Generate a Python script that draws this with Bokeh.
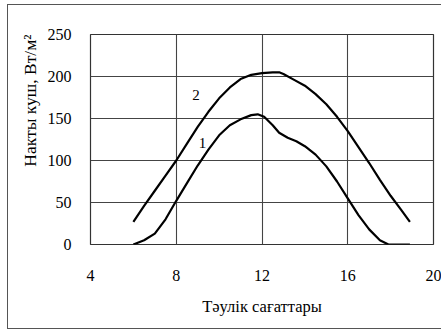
from bokeh.plotting import figure
from bokeh.models import Range1d, FixedTicker, Title
from bokeh.embed import file_html
from bokeh.resources import INLINE
from bokeh.core.properties import value

# Curve 2 (upper)
hours_2 = [6.0, 6.5, 7.0, 7.5, 8.0, 8.5, 9.0, 9.5, 10.0, 10.5, 11.0, 11.5, 12.0, 12.5,
           12.8, 13.0, 13.5, 14.0, 14.5, 15.0, 15.5, 16.0, 16.5, 17.0, 17.5, 18.0, 18.5, 18.9]
power_2 = [27, 46, 64, 82, 100, 120, 140, 158, 174, 187, 197, 202, 204, 205,
           205, 203, 196, 189, 179, 167, 152, 135, 116, 97, 77, 58, 41, 27]

# Curve 1 (lower)
hours_1 = [6.0, 6.5, 7.0, 7.5, 8.0, 8.5, 9.0, 9.5, 10.0, 10.5, 11.0, 11.5, 11.8, 12.1,
           12.5, 12.8, 13.2, 13.6, 14.0, 14.5, 15.0, 15.5, 16.0, 16.5, 17.0, 17.5, 17.9, 18.9]
power_1 = [0, 5, 13, 30, 52, 73, 94, 113, 130, 142, 149, 154, 155, 152,
           142, 133, 127, 123, 117, 107, 93, 75, 55, 35, 18, 5, 0, 0]

x_ticks = [4, 8, 12, 16, 20]
y_ticks = [0, 50, 100, 150, 200, 250]
curve_labels = ["2", "1"]
label_x = [8.92, 9.23]
label_y = [178, 121]
x_title = "Тәулік сағаттары"
y_title = "Накты куш, Вт/м²"

FONT = "Liberation Serif"

p = figure(width=434, height=325, output_backend="svg", toolbar_location=None,
           x_range=Range1d(4, 20), y_range=Range1d(0, 250),
           min_border_left=82, min_border_right=9, min_border_top=29, min_border_bottom=86,
           x_axis_label=x_title)
p.styles = {"position": "absolute", "left": "7px", "top": "4px",
            "border-left": "1px solid #555555", "border-top": "1px solid #555555",
            "border-bottom": "1px solid #555555"}

p.outline_line_color = "#333333"
p.outline_line_width = 1.2
p.background_fill_color = "white"
p.border_fill_color = "white"

for ax in (p.xaxis[0], p.yaxis[0]):
    ax.axis_line_color = None
    ax.major_tick_line_color = None
    ax.minor_tick_line_color = None
    ax.major_label_text_font = FONT
    ax.major_label_text_font_size = "16px"
    ax.major_label_text_color = "black"
    ax.axis_label_text_font = FONT
    ax.axis_label_text_font_size = "16.5px"
    ax.axis_label_text_font_style = "normal"
    ax.axis_label_text_color = "black"

p.xaxis.ticker = FixedTicker(ticks=x_ticks)
p.yaxis.ticker = FixedTicker(ticks=y_ticks)
p.xaxis.major_label_standoff = 19
p.yaxis.major_label_standoff = 13
p.xaxis.axis_label_standoff = 13

p.xgrid.grid_line_color = "#444444"
p.ygrid.grid_line_color = "#444444"
p.xgrid.grid_line_width = 1.1
p.ygrid.grid_line_width = 1.1

p.line(hours_2, power_2, line_color="black", line_width=2.2)
p.line(hours_1, power_1, line_color="black", line_width=2.2)

p.text(x=label_x, y=label_y, text=curve_labels, text_font=value(FONT),
       text_font_size="15px", text_align="center", text_baseline="middle",
       text_color="black")

# rotated y title, aligned toward the top of the frame like in the reference
p.add_layout(Title(text=y_title, align="right", text_font=FONT, text_font_size="17.5px",
                   text_font_style="normal", text_color="black", standoff=9), "left")

open("out.html", "w").write(file_html(p, INLINE))
